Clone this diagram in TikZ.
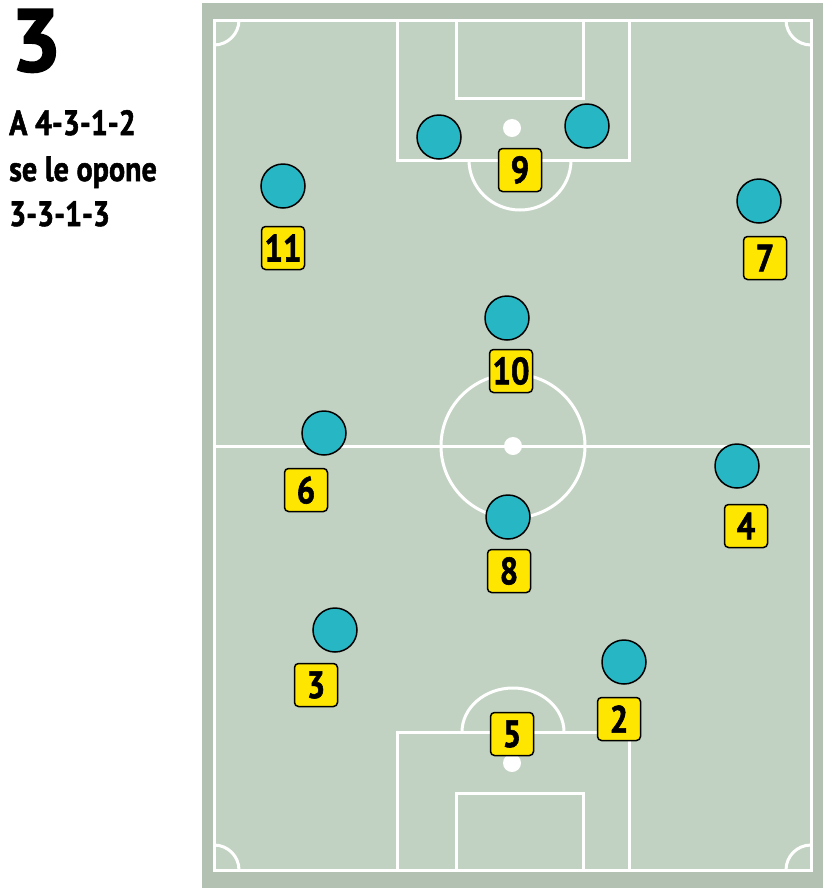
\documentclass[tikz,border=0pt]{standalone}
\usepackage{fontspec}
\setmainfont{PT Sans}
\newfontfamily\headfont{PT Sans Bold}[FakeStretch=0.86,FakeBold=1.5]
\newfontfamily\bigfont{PT Sans Bold}[FakeBold=2.5]
\definecolor{grass}{HTML}{C2D2C2}
\definecolor{grassedge}{HTML}{B2C1B2}
\definecolor{teamcyan}{HTML}{27B6C4}
\definecolor{numyellow}{HTML}{FFE600}
\tikzset{
  pitchline/.style={white,line width=3pt},
  player/.style={circle,draw=black,fill=teamcyan,line width=1.5pt,minimum size=44pt,inner sep=0pt},
  numbox/.style={draw=black,fill=numyellow,rounded corners=4pt,line width=1.5pt,
    minimum size=43pt,inner sep=0pt,font=\headfont\fontsize{38}{38}\selectfont},
  spot/.style={circle,fill=white,minimum size=18pt,inner sep=0pt},
  title/.style={anchor=base west,inner sep=0pt,font=\headfont\fontsize{35}{35}\selectfont}
}
\begin{document}
\begin{tikzpicture}[x=1pt,y=-1pt]
  \useasboundingbox (0,0) rectangle (833,895);

  % Heading
  \node[anchor=base west,inner sep=0pt,font=\bigfont\fontsize{88}{88}\selectfont] (big) at (11,71) {3};
  \node[title] (line1) at (9,135) {A 4-3-1-2};
  \node[title] (line2) at (9,181) {se le opone};
  \node[title] (line3) at (9,226) {3-3-1-3};

  % Pitch
  \fill[grassedge] (202,3) rectangle (823,888);
  \fill[grass] (214,20) rectangle (811,870);
  \draw[pitchline] (214,20) rectangle (811,870);
  \draw[pitchline] (214,446) -- (811,446);
  \draw[pitchline] (513,446) circle (72);
  \node[spot] (centre) at (513,446) {};

  % Top area
  \draw[pitchline] (397,20) rectangle (629,160);
  \draw[pitchline] (456,20) rectangle (583,98);
  \draw[pitchline] (469,160) arc (180:0:51 and 50);
  \node[spot] (topspot) at (512,128) {};

  % Bottom area
  \draw[pitchline] (397,732) rectangle (629,870);
  \draw[pitchline] (456,793) rectangle (583,870);
  \draw[pitchline] (462,732) arc (180:0:51 and -44);
  \node[spot] (botspot) at (512,763) {};

  % Corners
  \draw[pitchline] (239,20) arc (0:-90:25 and -25);
  \draw[pitchline] (786,20) arc (180:270:25 and -25);
  \draw[pitchline] (239,870) arc (0:90:25 and -25);
  \draw[pitchline] (786,870) arc (180:90:25 and -25);

  % Opponents
  \node[player] (o1) at (439,137) {};
  \node[player] (o2) at (587,126) {};
  \node[player] (o3) at (283,186) {};
  \node[player] (o4) at (759,201) {};
  \node[player] (o5) at (507,318) {};
  \node[player] (o6) at (324,433) {};
  \node[player] (o7) at (737,466) {};
  \node[player] (o8) at (508,517) {};
  \node[player] (o9) at (335,630) {};
  \node[player] (o10) at (624,662) {};

  % Numbers
  \node[numbox] (n9) at (520,170) {9};
  \node[numbox] (n11) at (283,248) {11};
  \node[numbox] (n7) at (765,258) {7};
  \node[numbox] (n10) at (511,371) {10};
  \node[numbox] (n6) at (306,490) {6};
  \node[numbox] (n4) at (746,526) {4};
  \node[numbox] (n8) at (509,571) {8};
  \node[numbox] (n3) at (316,685) {3};
  \node[numbox] (n5) at (512,734) {5};
  \node[numbox] (n2) at (619,719) {2};
\end{tikzpicture}
\end{document}
